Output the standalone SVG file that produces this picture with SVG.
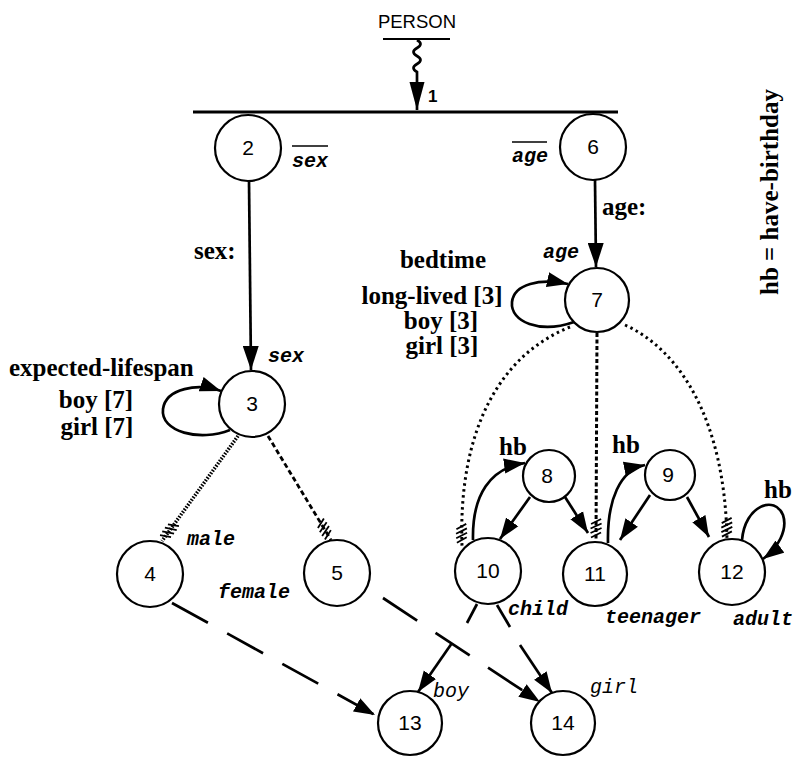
<svg xmlns="http://www.w3.org/2000/svg" width="796" height="757" viewBox="0 0 796 757">
<style>
.n circle{fill:#fff;stroke:#000;stroke-width:2.2}
.n text{font-family:"Liberation Sans",Arial,sans-serif;font-size:21px;text-anchor:middle}
.lbl{font-family:"Liberation Serif","Times New Roman",serif;font-weight:bold;font-size:25px}
.mono{font-family:"Liberation Mono","Courier New",monospace;font-style:italic;font-weight:bold;font-size:20px}
.monol{font-family:"Liberation Mono","Courier New",monospace;font-style:italic;font-size:20px}
.e{fill:none;stroke:#000;stroke-width:2.7}
.dot{stroke-dasharray:2.5 3.5;stroke-width:3}
.dash7{stroke-dasharray:4 2.5;stroke-width:3}
.hat1{stroke-dasharray:1.6 1.4;stroke-width:3.6}
.hat2{stroke-dasharray:5 3;stroke-width:2.8}
.long{stroke-dasharray:41 22}
</style>
<defs>
<marker id="aL" markerUnits="userSpaceOnUse" viewBox="-28 -8 28 16" markerWidth="28" markerHeight="16" refX="0" refY="0" orient="auto"><path d="M0,0 L-28,-7.5 L-28,7.5 z"/></marker>
<marker id="aM" markerUnits="userSpaceOnUse" viewBox="-24 -8 24 16" markerWidth="24" markerHeight="16" refX="0" refY="0" orient="auto"><path d="M0,0 L-24,-8 L-24,8 z"/></marker>
<marker id="aS" markerUnits="userSpaceOnUse" viewBox="-21 -8 21 16" markerWidth="21" markerHeight="16" refX="0" refY="0" orient="auto"><path d="M0,0 L-21,-7.5 L-21,7.5 z"/></marker>
<marker id="hatch" markerUnits="userSpaceOnUse" viewBox="-24 -8 24 16" markerWidth="24" markerHeight="16" refX="0" refY="0" orient="auto"><path d="M-22,-5 L-17,5 M-17.5,-5.5 L-12.5,5.5 M-13,-5.5 L-8,5.5 M-8.5,-5 L-3.5,5" fill="none" stroke="#000" stroke-width="1.8"/></marker>
</defs>
<rect x="0" y="0" width="796" height="757" fill="#fff"/>

<g id="connectors">
  <line x1="193" y1="112" x2="618" y2="112" stroke="#000" stroke-width="3"/>
  <line x1="383" y1="39" x2="450" y2="39" stroke="#000" stroke-width="2.2"/>
  <path class="e" d="M417,40 q7,4 0,8 q-7,4 0,8 q7,4 0,8 q-7,4 0,8 L417,110" stroke-width="2" marker-end="url(#aL)"/>
  <path class="e" d="M249,181 L251,370" stroke-width="3" marker-end="url(#aM)"/>
  <path class="e" d="M595,180 L596,267" stroke-width="3" marker-end="url(#aM)"/>
  <path class="e" d="M230,430 C200,442 160,432 163,409 C166,388 198,383 221,391" marker-end="url(#aS)"/>
  <path class="e" d="M574,322 C540,334 510,322 512,302 C514,284 540,278 568,284" marker-end="url(#aS)"/>
  <path class="e hat1" d="M238,436 L162,541" marker-end="url(#hatch)"/>
  <path class="e hat2" d="M268,436 L331,540" marker-end="url(#hatch)"/>
  <path class="e dot" d="M570,327 C500,355 458,430 462,546" marker-end="url(#hatch)"/>
  <path class="e dash7" d="M597,333 L596,541" marker-end="url(#hatch)"/>
  <path class="e dot" d="M625,325 C680,350 725,420 727,540" marker-end="url(#hatch)"/>
  <path class="e" d="M473,540 C472,495 490,468 525,463" marker-end="url(#aS)"/>
  <path class="e" d="M530,497 L500,539" marker-end="url(#aS)"/>
  <path class="e" d="M565,497 L588,533" marker-end="url(#aS)"/>
  <path class="e" d="M650,495 L620,540" marker-end="url(#aS)"/>
  <path class="e" d="M687,497 L709,537" marker-end="url(#aS)"/>
  <path class="e" d="M608,543 C607,500 620,470 645,465" marker-end="url(#aS)"/>
  <path class="e" d="M742,540 C745,505 775,495 783,515 C788,530 778,548 763,559" marker-end="url(#aS)"/>
  <path class="e" d="M477,604 L467,623"/>
  <path class="e" d="M452,643 L418,692" marker-end="url(#aS)"/>
  <path class="e" d="M497,605 L510,627"/>
  <path class="e" d="M520,645 L552,693" marker-end="url(#aS)"/>
  <path class="e long" d="M172,603 L375,715" marker-end="url(#aS)"/>
  <path class="e long" d="M383,598 L540,702" marker-end="url(#aS)"/>
</g>

<g id="labels">
  <text x="417" y="28" text-anchor="middle" font-family="Liberation Sans, Arial, sans-serif" font-size="18.5">PERSON</text>
  <text x="428" y="102" font-family="Liberation Sans, Arial, sans-serif" font-size="17" font-weight="bold">1</text>
  <text class="mono" x="292" y="167">sex</text>
  <line x1="292" y1="146" x2="328" y2="146" stroke="#000" stroke-width="1.5"/>
  <text class="mono" x="512" y="162">age</text>
  <line x1="512" y1="142" x2="547" y2="142" stroke="#000" stroke-width="1.5"/>
  <text class="lbl" x="194" y="259">sex:</text>
  <text class="lbl" x="602" y="215">age:</text>
  <text class="mono" x="543" y="258">age</text>
  <text class="mono" x="268" y="362">sex</text>
  <text class="lbl" x="9" y="376">expected-lifespan</text>
  <text class="lbl" x="96" y="408" text-anchor="middle">boy [7]</text>
  <text class="lbl" x="97" y="435" text-anchor="middle">girl [7]</text>
  <text class="lbl" x="443" y="268" text-anchor="middle">bedtime</text>
  <text class="lbl" x="432" y="304" text-anchor="middle">long-lived [3]</text>
  <text class="lbl" x="441" y="329" text-anchor="middle">boy [3]</text>
  <text class="lbl" x="442" y="354" text-anchor="middle">girl [3]</text>
  <text class="mono" x="187" y="545">male</text>
  <text class="mono" x="218" y="598">female</text>
  <text class="mono" x="508" y="615">child</text>
  <text class="mono" x="605" y="623" font-size="19">teenager</text>
  <text class="mono" x="733" y="625">adult</text>
  <text class="monol" x="433" y="697">boy</text>
  <text class="monol" x="590" y="693">girl</text>
  <text class="lbl" x="499" y="455">hb</text>
  <text class="lbl" x="612" y="453">hb</text>
  <text class="lbl" x="764" y="498">hb</text>
  <text class="lbl" transform="translate(778,192) rotate(-90)" text-anchor="middle">hb = have-birthday</text>
</g>

<g id="n2" class="n"><circle cx="248" cy="148" r="33"/><text x="248" y="155">2</text></g>
<g id="n6" class="n"><circle cx="593" cy="147" r="33"/><text x="593" y="154">6</text></g>
<g id="n3" class="n"><circle cx="252" cy="404" r="33"/><text x="252" y="411">3</text></g>
<g id="n7" class="n"><circle cx="597" cy="300" r="32"/><text x="597" y="307">7</text></g>
<g id="n4" class="n"><circle cx="150" cy="574" r="33"/><text x="150" y="581">4</text></g>
<g id="n5" class="n"><circle cx="337" cy="573" r="33"/><text x="337" y="580">5</text></g>
<g id="n8" class="n"><circle cx="549" cy="476" r="26"/><text x="547" y="483">8</text></g>
<g id="n9" class="n"><circle cx="670" cy="475" r="25"/><text x="668" y="482">9</text></g>
<g id="n10" class="n"><circle cx="488" cy="571" r="33"/><text x="488" y="578">10</text></g>
<g id="n11" class="n"><circle cx="595" cy="574" r="32"/><text x="595" y="581">11</text></g>
<g id="n12" class="n"><circle cx="732" cy="572" r="33"/><text x="732" y="579">12</text></g>
<g id="n13" class="n"><circle cx="410" cy="723" r="32"/><text x="410" y="730">13</text></g>
<g id="n14" class="n"><circle cx="563" cy="723" r="32"/><text x="563" y="730">14</text></g>
</svg>
